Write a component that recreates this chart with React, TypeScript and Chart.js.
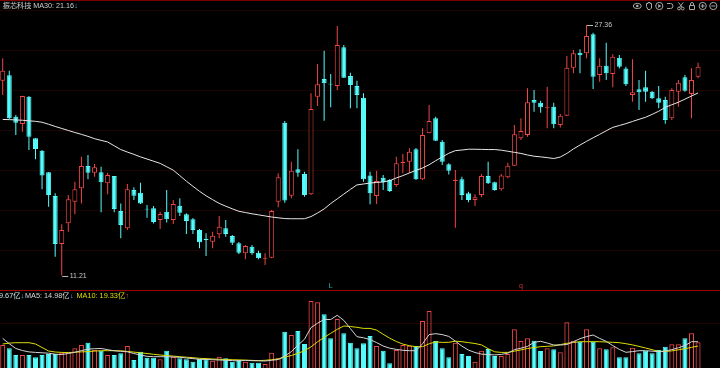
import React, { useEffect, useRef } from 'react';
import { Chart, registerables } from 'chart.js';

Chart.register(...registerables);

// ---- Price data (per trading day) ----
const opens = [
  23.77, 24.12, 21.45, 20.98, 22.74, 20.06, 19.26, 17.86, 16.34, 13.24,
  14.58, 15.97, 16.83, 18.27, 17.84, 17.86, 17.15, 17.63, 15.37, 14.25,
  16.72, 16.55, 15.52, 15.54, 14.79, 15.32, 14.79, 15.71, 15.16, 14.83,
  14.14, 13.57, 13.39, 13.87, 14.25, 13.76, 13.29, 12.64, 13.07, 12.68,
  12.29, 12.36, 15.97, 21.06, 16.35, 18.06, 17.75, 16.45, 22.74, 23.88,
  23.58, 23.43, 25.92, 24.07, 23.43, 22.67, 17.65, 16.34, 17.52, 17.37,
  17.05, 18.44, 18.55, 19.35, 17.41, 20.38, 21.35, 19.84, 18.38, 17.31,
  17.41, 16.51, 16.08, 16.40, 17.63, 17.22, 16.77, 17.54, 18.29, 20.06,
  20.27, 22.52, 22.35, 22.02, 22.09, 20.91, 21.51, 24.61, 25.57, 25.54,
  26.76, 24.14, 24.74, 24.20, 25.25, 24.56, 22.85, 23.21, 23.34, 23.06,
  22.64, 22.52, 21.35, 23.06, 23.99, 22.91, 24.03,
];
const highs = [
  25.21, 24.41, 21.56, 22.80, 22.78, 20.07, 19.30, 17.88, 16.51, 14.51,
  16.40, 17.26, 18.87, 18.98, 18.40, 18.22, 17.84, 17.63, 15.86, 17.11,
  16.90, 17.19, 15.76, 15.69, 15.32, 16.72, 16.08, 16.19, 15.22, 14.92,
  14.21, 13.93, 14.03, 15.05, 14.79, 13.82, 13.37, 13.18, 13.18, 12.81,
  12.64, 15.43, 17.80, 21.17, 18.55, 19.35, 17.90, 22.96, 24.85, 25.70,
  24.20, 27.30, 26.07, 24.28, 23.77, 22.96, 17.90, 17.97, 17.69, 17.43,
  18.87, 19.04, 19.41, 19.43, 20.70, 22.20, 21.45, 19.95, 18.44, 18.01,
  17.58, 16.61, 16.45, 17.75, 18.55, 17.26, 17.75, 18.48, 20.91, 21.35,
  23.28, 23.17, 22.48, 23.38, 22.35, 21.62, 25.36, 25.75, 25.79, 27.36,
  26.86, 25.21, 26.22, 25.47, 25.43, 24.67, 25.15, 23.81, 24.41, 23.11,
  23.43, 22.74, 23.28, 23.81, 24.14, 24.57, 24.93,
];
const lows = [
  22.85, 21.30, 20.27, 20.48, 19.30, 18.70, 16.77, 15.65, 12.42, 11.21,
  14.03, 15.16, 15.86, 17.41, 17.58, 15.29, 16.45, 15.29, 13.61, 14.14,
  16.08, 15.82, 14.94, 14.57, 14.21, 14.62, 14.53, 15.05, 13.89, 13.89,
  12.96, 12.47, 12.96, 13.61, 13.71, 13.18, 12.59, 12.26, 12.55, 12.26,
  11.89, 12.32, 15.61, 15.90, 16.19, 17.58, 16.29, 16.40, 22.14, 21.19,
  22.05, 23.17, 23.94, 21.99, 21.99, 17.26, 15.80, 15.82, 16.72, 16.59,
  16.94, 17.80, 17.84, 17.37, 17.37, 20.38, 19.88, 18.33, 17.73, 14.29,
  16.08, 15.93, 15.69, 16.25, 17.11, 16.68, 16.68, 17.48, 18.27, 19.95,
  20.16, 21.77, 21.71, 20.70, 20.70, 20.76, 21.49, 24.25, 24.25, 25.21,
  23.23, 23.70, 23.81, 23.34, 24.56, 23.43, 22.42, 21.88, 22.42, 22.59,
  21.99, 20.99, 21.24, 22.09, 23.06, 21.35, 23.92,
];
const closes = [
  24.41, 21.35, 21.06, 22.78, 20.16, 19.37, 17.65, 16.40, 13.24, 14.14,
  16.12, 16.77, 18.27, 17.84, 18.19, 17.22, 17.69, 15.50, 14.47, 16.77,
  16.35, 15.86, 15.46, 14.66, 15.18, 14.83, 15.82, 15.26, 14.72, 14.14,
  13.35, 13.50, 13.78, 14.36, 13.89, 13.32, 12.68, 13.11, 12.64, 12.32,
  12.35, 15.37, 17.54, 16.05, 17.97, 17.84, 16.40, 21.94, 23.54, 23.60,
  23.52, 26.07, 23.96, 23.49, 22.85, 17.41, 16.51, 17.30, 17.22, 16.66,
  18.44, 18.55, 19.19, 17.41, 20.27, 21.17, 19.90, 18.55, 17.97, 17.38,
  16.40, 16.08, 16.25, 17.63, 17.15, 16.72, 17.65, 18.29, 20.31, 20.53,
  22.38, 22.35, 22.05, 22.09, 20.96, 21.51, 24.61, 25.54, 25.41, 26.65,
  24.03, 24.74, 24.25, 25.32, 24.67, 23.54, 23.02, 23.02, 23.06, 22.64,
  22.35, 21.24, 23.17, 23.64, 23.12, 23.81, 24.67,
];
const ma30 = [
  21.27, 21.26, 21.24, 21.22, 21.18, 21.15, 21.09, 20.96, 20.82, 20.69,
  20.56, 20.43, 20.31, 20.18, 20.03, 19.92, 19.82, 19.57, 19.33, 19.17,
  19.02, 18.86, 18.72, 18.58, 18.44, 18.22, 18.00, 17.65, 17.29, 16.96,
  16.64, 16.35, 16.10, 15.86, 15.68, 15.51, 15.35, 15.27, 15.19, 15.12,
  15.05, 14.98, 14.93, 14.88, 14.87, 14.87, 14.87, 15.01, 15.24, 15.50,
  15.85, 16.15, 16.46, 16.76, 17.05, 17.11, 17.17, 17.21, 17.24, 17.32,
  17.50, 17.65, 17.82, 17.99, 18.14, 18.35, 18.61, 18.85, 19.09, 19.26,
  19.30, 19.35, 19.35, 19.34, 19.33, 19.33, 19.29, 19.22, 19.15, 19.08,
  18.98, 18.90, 18.86, 18.81, 18.75, 18.85, 19.08, 19.37, 19.62, 19.86,
  20.09, 20.31, 20.54, 20.76, 20.88, 21.00, 21.14, 21.28, 21.41, 21.60,
  21.80, 22.05, 22.22, 22.38, 22.58, 22.78, 22.98,
];

// ---- Volume data (亿) ----
const volumes = [
  11.5, 9.85, 6.5, 6.5, 6.5, 5.35, 6.5, 7.0, 7.0, 7.65,
  8.15, 9.85, 11.5, 12.65, 9.0, 8.65, 6.5, 6.5, 7.35, 11.0,
  4.0, 8.15, 5.15, 5.15, 4.35, 8.65, 5.65, 4.85, 4.35, 3.15,
  4.5, 4.35, 3.65, 5.65, 4.85, 3.15, 4.0, 3.15, 2.65, 2.65,
  2.0, 7.65, 4.85, 18.15, 16.5, 18.5, 12.0, 33.5, 32.85, 26.85,
  14.85, 24.5, 17.35, 12.65, 9.85, 12.35, 16.0, 11.0, 8.65, 2.35,
  9.0, 11.5, 11.15, 11.0, 23.5, 28.5, 13.5, 9.85, 5.35, 12.65,
  7.0, 6.0, 3.15, 8.65, 9.5, 6.0, 6.0, 7.0, 19.35, 13.5,
  14.85, 13.65, 8.5, 9.85, 9.35, 7.85, 22.85, 13.65, 13.15, 19.35,
  13.15, 9.85, 9.35, 10.35, 5.35, 5.35, 10.15, 7.35, 8.65, 7.35,
  9.0, 10.65, 11.85, 11.85, 14.85, 17.35, 12.85,
];
const volMa5 = [
  14.8, 12.15, 9.75, 8.75, 8.05, 7.8, 7.6, 7.4, 6.9, 6.75,
  7.25, 7.85, 8.7, 9.4, 9.65, 9.75, 9.15, 8.6, 8.35, 8.1,
  7.25, 6.45, 5.85, 5.65, 5.65, 5.65, 5.5, 5.35, 5.0, 4.7,
  4.35, 4.25, 4.15, 4.0, 3.85, 3.7, 3.55, 3.8, 3.65, 3.6,
  3.5, 3.85, 4.25, 5.95, 8.2, 11.4, 14.35, 20.2, 22.4, 24.3,
  24.25, 26.35, 23.8, 19.75, 15.65, 15.1, 14.2, 12.7, 11.0, 9.9,
  9.3, 8.85, 8.65, 8.65, 12.1, 16.7, 17.15, 16.7, 15.8, 13.4,
  10.95, 8.95, 7.75, 6.95, 6.7, 6.55, 6.8, 7.4, 9.15, 9.9,
  10.8, 12.85, 13.35, 12.5, 11.5, 11.5, 11.75, 13.15, 14.65, 15.7,
  16.5, 14.8, 13.3, 11.2, 9.3, 7.85, 8.2, 8.65, 8.65, 8.4,
  8.2, 8.45, 9.2, 10.1, 11.2, 13.15, 13.15,
];
const volMa10 = [
  12.0, 12.45, 12.65, 12.65, 12.65, 12.0, 10.25, 8.5, 8.0, 7.8,
  7.7, 7.9, 8.05, 8.2, 8.45, 8.65, 8.65, 8.65, 8.6, 8.3,
  7.95, 7.6, 7.25, 6.85, 6.5, 6.2, 5.95, 5.65, 5.4, 5.15,
  4.85, 4.7, 4.5, 4.35, 4.25, 4.15, 4.05, 3.95, 3.8, 3.7,
  3.85, 4.15, 4.55, 5.45, 6.25, 7.35, 8.6, 10.6, 13.1, 15.3,
  17.35, 19.35, 21.0, 20.75, 20.35, 19.8, 19.8, 18.95, 16.85, 14.9,
  13.25, 11.95, 11.15, 10.65, 10.65, 12.1, 13.05, 12.8, 12.85, 13.4,
  13.15, 12.7, 12.25, 11.55, 9.65, 8.1, 7.8, 7.8, 8.4, 9.05,
  9.75, 10.25, 10.65, 10.85, 11.05, 11.7, 12.35, 12.75, 13.15, 13.15,
  13.15, 13.15, 13.0, 12.85, 12.65, 12.15, 11.55, 10.8, 10.0, 9.15,
  8.3, 8.3, 8.55, 9.1, 9.65, 10.3, 11.0,
];

// ---- Texts ----
const stockName = '振芯科技';
const ma30Label = 'MA30: 21.16';
const volLabel = '9.67亿';
const ma5Label = 'MA5: 14.98亿';
const ma10Label = 'MA10: 19.33亿';
const markerIndices = [50, 79];
const markerTexts = ['L', 'q'];

const RED = '#f04646';
const CYAN = '#54fcfc';
const FONT = '"Liberation Sans", "Noto Sans CJK SC", sans-serif';

function drawIcons(ctx: CanvasRenderingContext2D) {
  ctx.save();
  ctx.strokeStyle = '#a8a8a8';
  ctx.fillStyle = '#a8a8a8';
  ctx.lineWidth = 1;
  const cy = 6;
  // eye
  ctx.beginPath();
  ctx.ellipse(637.3, cy, 4, 2.6, 0, 0, Math.PI * 2);
  ctx.stroke();
  ctx.beginPath();
  ctx.arc(637.3, cy, 1.3, 0, Math.PI * 2);
  ctx.fill();
  // hand
  ctx.beginPath();
  ctx.moveTo(646.5, 6.5);
  ctx.lineTo(646.5, 3.5);
  ctx.lineTo(648, 3.5);
  ctx.lineTo(648, 2.5);
  ctx.lineTo(650, 2.5);
  ctx.lineTo(650, 3.5);
  ctx.lineTo(651.5, 3.5);
  ctx.lineTo(651.5, 8);
  ctx.lineTo(650, 9.5);
  ctx.lineTo(648, 9.5);
  ctx.closePath();
  ctx.stroke();
  // play circle
  ctx.beginPath();
  ctx.arc(659.3, cy, 3.6, 0, Math.PI * 2);
  ctx.stroke();
  ctx.beginPath();
  ctx.moveTo(658.2, 4);
  ctx.lineTo(661.2, 6);
  ctx.lineTo(658.2, 8);
  ctx.closePath();
  ctx.fill();
  // undo
  ctx.beginPath();
  ctx.moveTo(667, 3.5);
  ctx.lineTo(670.5, 3.5);
  ctx.arc(670.5, 6, 2.5, -Math.PI / 2, Math.PI / 2);
  ctx.lineTo(667, 8.5);
  ctx.stroke();
  // scissors
  ctx.beginPath();
  ctx.arc(679, 8.5, 1.4, 0, Math.PI * 2);
  ctx.moveTo(684.1, 8.5);
  ctx.arc(682.7, 8.5, 1.4, 0, Math.PI * 2);
  ctx.moveTo(679.5, 7.3);
  ctx.lineTo(683.2, 2.5);
  ctx.moveTo(682.2, 7.3);
  ctx.lineTo(678.5, 2.5);
  ctx.stroke();
  // lock
  ctx.beginPath();
  ctx.rect(689.5, 5.5, 5, 4);
  ctx.moveTo(690.5, 5.5);
  ctx.lineTo(690.5, 4);
  ctx.arc(692, 4, 1.5, Math.PI, 0);
  ctx.lineTo(693.5, 5.5);
  ctx.stroke();
  // plus circle
  ctx.beginPath();
  ctx.arc(702.7, cy, 3.6, 0, Math.PI * 2);
  ctx.moveTo(700.7, cy);
  ctx.lineTo(704.7, cy);
  ctx.moveTo(702.7, 4);
  ctx.lineTo(702.7, 8);
  ctx.stroke();
  // minus circle
  ctx.beginPath();
  ctx.arc(713.3, cy, 3.6, 0, Math.PI * 2);
  ctx.moveTo(711.3, cy);
  ctx.lineTo(715.3, cy);
  ctx.stroke();
  ctx.restore();
}

const decorPlugin = {
  id: 'decor',
  beforeDatasetsDraw(chart: any) {
    const ctx: CanvasRenderingContext2D = chart.ctx;
    const w = chart.width;
    ctx.save();
    ctx.fillStyle = '#1e0303';
    [10, 50, 90, 130, 170, 210, 250, 323].forEach((y) => ctx.fillRect(0, y, w, 1));
    ctx.fillStyle = '#7c0000';
    ctx.fillRect(0, 0, w, 1);
    ctx.fillStyle = '#a00000';
    ctx.fillRect(0, 290, w, 1);
    ctx.restore();
  },
  afterDraw(chart: any) {
    const ctx: CanvasRenderingContext2D = chart.ctx;
    const xs = chart.scales.x;
    const ys = chart.scales.y;
    ctx.save();
    ctx.textBaseline = 'middle';
    ctx.textAlign = 'left';
    const seg = (text: string, x: number, y: number, color: string, size: number) => {
      ctx.font = `${size}px ${FONT}`;
      ctx.fillStyle = color;
      ctx.fillText(text, x, y);
      return x + ctx.measureText(text).width;
    };
    // header
    seg(stockName, 2.7, 6, '#d0d0d0', 7.2);
    let e = seg(ma30Label, 33.3, 6, '#d0d0d0', 7.2);
    seg('↓', e + 0.3, 6, '#3cc8ff', 7.2);
    // volume legend
    e = seg(volLabel, -1, 295.5, '#c8e4e4', 7.3);
    seg('↓', e + 0.3, 295.5, '#3cc8ff', 7.3);
    e = seg(ma5Label, 25, 295.5, '#d8d8d8', 7.3);
    seg('↓', e + 0.3, 295.5, '#3cc8ff', 7.3);
    e = seg(ma10Label, 76.5, 295.5, '#dede00', 7.3);
    seg('↑', e + 0.3, 295.5, '#ff3c3c', 7.3);

    // max / min annotations
    let hiI = 0;
    let loI = 0;
    highs.forEach((v, i) => { if (v > highs[hiI]) hiI = i; });
    lows.forEach((v, i) => { if (v < lows[loI]) loI = i; });
    const ann = (i: number, v: number) => {
      const px = xs.getPixelForValue(i);
      const py = Math.round(ys.getPixelForValue(v)) + 0.5;
      ctx.strokeStyle = '#b8b8b8';
      ctx.lineWidth = 1;
      ctx.beginPath();
      ctx.moveTo(px + 0.5, py);
      ctx.lineTo(px + 6.5, py);
      ctx.stroke();
      seg(v.toFixed(2), px + 8, py, '#c8c8c8', 7);
    };
    ann(hiI, highs[hiI]);
    ann(loI, lows[loI]);

    // small markers above separator
    markerIndices.forEach((i, k) => {
      const px = xs.getPixelForValue(i);
      ctx.font = `7px ${FONT}`;
      ctx.fillStyle = k === 0 ? '#2ab4b4' : '#d03030';
      ctx.textAlign = 'center';
      ctx.fillText(markerTexts[k], px, 286.3);
    });
    ctx.textAlign = 'left';
    ctx.restore();
    drawIcons(ctx);
  },
};

export default function App() {
  const ref = useRef<HTMLCanvasElement>(null);

  useEffect(() => {
    document.body.style.background = '#000';
    const idx = opens.map((_, i) => i);
    const up = idx.map((i) => closes[i] >= opens[i]);
    const colors = idx.map((i) => (up[i] ? RED : CYAN));

    const chart = new Chart(ref.current as HTMLCanvasElement, {
      type: 'bar',
      data: {
        datasets: [
          {
            type: 'line',
            label: 'MA30',
            data: idx.map((i) => ({ x: i, y: ma30[i] })),
            yAxisID: 'y',
            borderColor: '#e6e6e6',
            borderWidth: 1,
            pointRadius: 0,
            tension: 0,
            order: 0,
          } as any,
          {
            type: 'line',
            label: 'MA5',
            data: idx.map((i) => ({ x: i, y: volMa5[i] })),
            yAxisID: 'yv',
            borderColor: '#d4d4d4',
            borderWidth: 1,
            pointRadius: 0,
            tension: 0,
            order: 0,
          } as any,
          {
            type: 'line',
            label: 'MA10',
            data: idx.map((i) => ({ x: i, y: volMa10[i] })),
            yAxisID: 'yv',
            borderColor: '#dede00',
            borderWidth: 1,
            pointRadius: 0,
            tension: 0,
            order: 0,
          } as any,
          {
            type: 'bar',
            label: 'body',
            data: idx.map((i) => ({ x: i, y: [opens[i], closes[i]] })),
            yAxisID: 'y',
            backgroundColor: idx.map((i) => (up[i] ? '#000000' : CYAN)),
            borderColor: colors,
            borderWidth: 1,
            borderSkipped: false,
            barThickness: 5,
            grouped: false,
            inflateAmount: 0,
            order: 1,
          } as any,
          {
            type: 'bar',
            label: 'wick',
            data: idx.map((i) => ({ x: i, y: [lows[i], highs[i]] })),
            yAxisID: 'y',
            backgroundColor: colors,
            borderWidth: 0,
            barThickness: 1,
            grouped: false,
            inflateAmount: 0,
            order: 2,
          } as any,
          {
            type: 'bar',
            label: 'volume',
            data: idx.map((i) => ({ x: i, y: volumes[i] })),
            yAxisID: 'yv',
            backgroundColor: idx.map((i) => (up[i] ? 'rgba(0,0,0,0)' : CYAN)),
            borderColor: colors,
            borderWidth: 1,
            borderSkipped: 'start',
            barThickness: 5,
            grouped: false,
            inflateAmount: 0,
            order: 3,
          } as any,
        ],
      },
      options: {
        animation: false,
        responsive: false,
        devicePixelRatio: 1,
        events: [],
        layout: { padding: 0 },
        plugins: {
          legend: { display: false },
          tooltip: { enabled: false },
          title: { display: false },
        },
        scales: {
          x: {
            type: 'linear',
            min: -0.4116,
            max: 109.344,
            offset: false,
            bounds: 'data',
            display: false,
            grid: { display: false },
          },
          y: {
            type: 'linear',
            min: 5.247,
            max: 28.972,
            bounds: 'data',
            display: false,
          },
          yv: {
            type: 'linear',
            position: 'right',
            min: 0,
            max: 184,
            bounds: 'data',
            display: false,
          },
        },
      } as any,
      plugins: [decorPlugin],
    });
    return () => chart.destroy();
  }, []);

  return (
    <div
      style={{
        position: 'fixed',
        left: 0,
        top: 0,
        width: 720,
        height: 368,
        background: '#000',
        overflow: 'hidden',
      }}
    >
      <canvas ref={ref} width={720} height={368} style={{ display: 'block', width: 720, height: 368 }} />
    </div>
  );
}
